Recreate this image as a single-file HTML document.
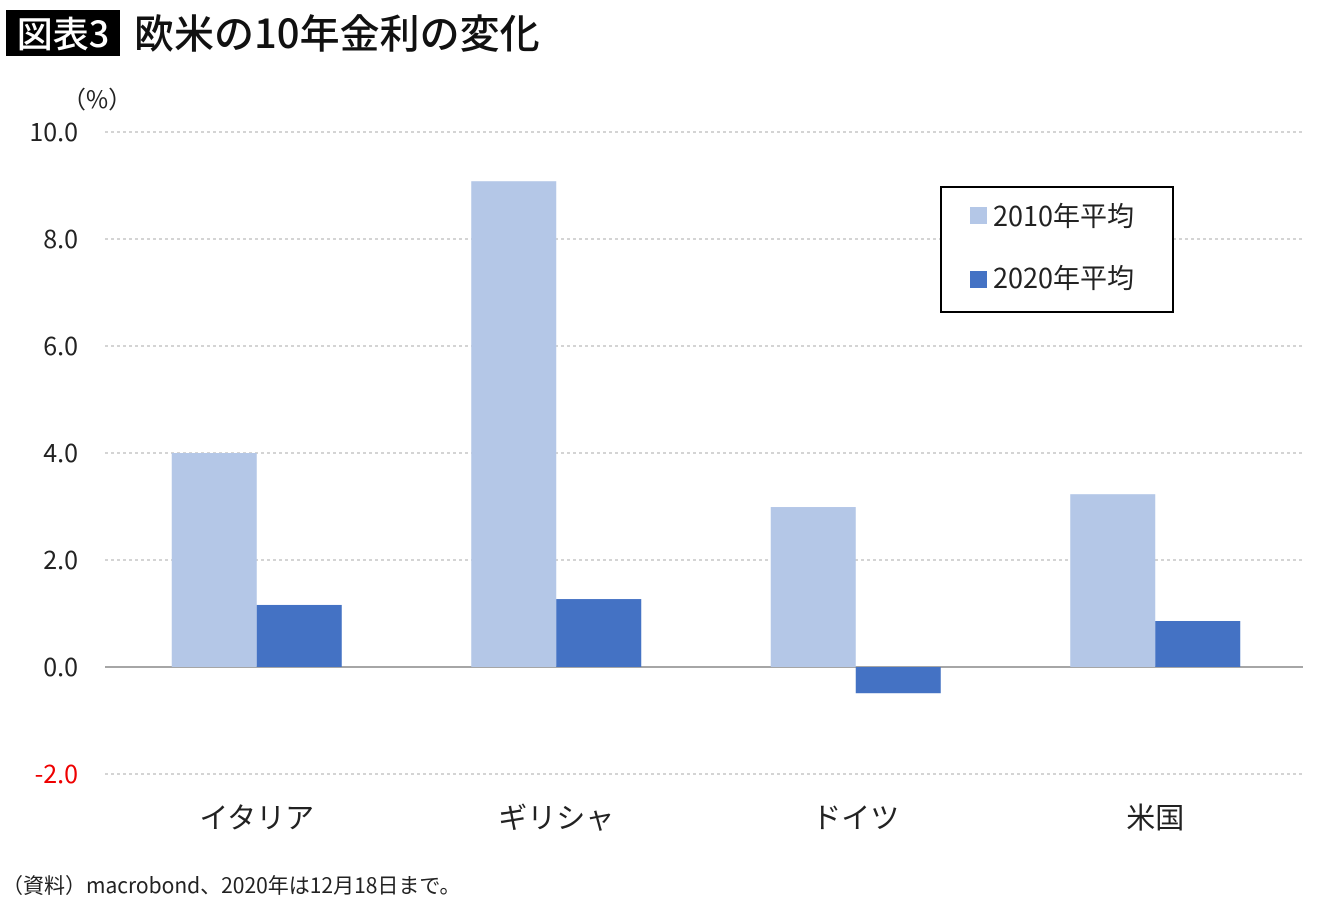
<!DOCTYPE html>
<html><head><meta charset="utf-8">
<style>
body{margin:0;background:#fff;width:1340px;height:905px;overflow:hidden;font-family:"Liberation Sans","Noto Sans CJK JP",sans-serif;}
svg{display:block}
</style></head>
<body>
<svg id="chart" width="1340" height="905">
  <rect x="6" y="10" width="114" height="46" fill="#000"/>
  <text x="63" y="47" font-size="36" font-weight="500" fill="#fff" text-anchor="middle" font-family="Noto Sans CJK JP, sans-serif">図表3</text>
  <text x="134" y="48" font-size="40" font-weight="500" fill="#111" font-family="Noto Sans CJK JP, sans-serif">欧米の10年金利の変化</text>
  <text x="62" y="108" font-size="24" fill="#222" font-family="Noto Sans CJK JP, sans-serif">（%）</text>
  <g id="grid"></g><g id="bars"></g><g id="labels"></g>
  <rect x="941" y="187" width="232" height="125" fill="#fff" stroke="#000" stroke-width="2"/>
  <rect x="970" y="207" width="17" height="17" fill="#b4c7e7"/>
  <text x="993" y="226" font-size="27" fill="#222" font-family="Noto Sans CJK JP, sans-serif">2010年平均</text>
  <rect x="970" y="271" width="17" height="17" fill="#4472c4"/>
  <text x="993" y="288" font-size="27" fill="#222" font-family="Noto Sans CJK JP, sans-serif">2020年平均</text>
  <text x="2" y="893" font-size="21" fill="#222" font-family="Noto Sans CJK JP, sans-serif">（資料）macrobond、2020年は12月18日まで。</text>
</svg>
<script>
const categories=["イタリア","ギリシャ","ドイツ","米国"];
const avg2010=[4.0,9.08,2.99,3.23];
const avg2020=[1.16,1.27,-0.49,0.86];
const ticks=[10,8,6,4,2,0,-2];
const tickLabels=["10.0","8.0","6.0","4.0","2.0","0.0","-2.0"];
const NS="http://www.w3.org/2000/svg";
const x0=105,x1=1303,y0=667,ppu=53.5,bw=85;
const y=v=>y0-v*ppu;
const cw=(x1-x0)/categories.length;
const cx=i=>x0+cw*(i+0.5)+2;
function mk(tag,attrs,parent){const e=document.createElementNS(NS,tag);for(const k in attrs)e.setAttribute(k,attrs[k]);document.getElementById(parent).appendChild(e);return e;}
ticks.forEach((t,i)=>{
  const l=mk('line',{x1:x0,x2:x1,y1:y(t),y2:y(t),stroke:t===0?'#888':'#aaa','stroke-width':t===0?1.5:1,'stroke-dasharray':t===0?'':'3,3'},'grid');
  
  
  const tx=mk('text',{x:78,y:y(t)+9,'font-size':25,'text-anchor':'end',fill:t<0?'#e00':'#222','font-family':'Noto Sans CJK JP, sans-serif'},'labels');
  tx.textContent=tickLabels[i];
  
  
});
categories.forEach((c,i)=>{
  [[avg2010,'#b4c7e7',-bw],[avg2020,'#4472c4',0]].forEach(([arr,col,off])=>{
    const v=arr[i];
    const r=mk('rect',{x:cx(i)+off,y:Math.min(y(v),y0),width:bw,height:Math.abs(y(v)-y0),fill:col},'bars');
    
    
  });
  const t=mk('text',{x:cx(i),y:828,'font-size':29,'text-anchor':'middle',fill:'#222','font-family':'Noto Sans CJK JP, sans-serif'},'labels');
  t.textContent=c;
  
  
});
</script>
</body></html>
